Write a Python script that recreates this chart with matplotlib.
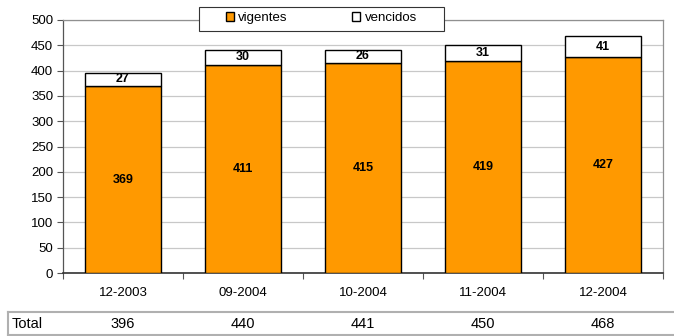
import matplotlib.pyplot as plt
import numpy as np
from matplotlib.lines import Line2D
from matplotlib.patches import Rectangle

periods = ["12-2003", "09-2004", "10-2004", "11-2004", "12-2004"]
vigentes = [369, 411, 415, 419, 427]
vencidos = [27, 30, 26, 31, 41]
totals = [396, 440, 441, 450, 468]

plt.rcParams["font.family"] = ["Liberation Sans", "DejaVu Sans"]

W, H = 674, 336
fig = plt.figure(figsize=(W / 100, H / 100), dpi=100)
ax = fig.add_axes([63 / W, 1 - 273 / H, 600 / W, 253 / H])

x = np.arange(len(periods))
orange = "#FF9900"
ax.bar(x, vigentes, width=0.63, color=orange, edgecolor="black", linewidth=1.0,
       label="vigentes", zorder=3)
ax.bar(x, vencidos, width=0.63, bottom=vigentes, color="white", edgecolor="black",
       linewidth=1.0, label="vencidos", zorder=3)

for i in range(len(periods)):
    ax.text(x[i], vigentes[i] / 2, str(vigentes[i]), ha="center", va="center",
            fontsize=9, fontweight="bold", zorder=4)
    ax.text(x[i], vigentes[i] + vencidos[i] / 2, str(vencidos[i]), ha="center",
            va="center", fontsize=9, fontweight="bold", zorder=4)

ax.set_xlim(-0.5, len(periods) - 0.5)
ax.set_ylim(0, 500)
ax.set_yticks(range(0, 501, 50))
ax.yaxis.grid(True, color="#c8c8c8", linewidth=0.9, zorder=0)
ax.set_axisbelow(True)

ax.set_xticks(x)
ax.set_xticklabels(periods, fontsize=9.5)
ax.set_xticks(np.arange(-0.5, len(periods)), minor=True)
ax.tick_params(axis="x", which="major", length=0, pad=10)
ax.tick_params(axis="x", which="minor", length=4, width=0.8, color="#555555")
ax.tick_params(axis="y", length=4, width=0.8, labelsize=9.5, pad=3, color="#555555")

for side in ["top", "right"]:
    ax.spines[side].set_color("#909090")
    ax.spines[side].set_linewidth(0.9)
ax.spines["left"].set_color("#555555")
ax.spines["bottom"].set_color("#333333")
ax.spines["left"].set_linewidth(0.9)
ax.spines["bottom"].set_linewidth(1.2)

# legend box straddling the top edge of the plot area
fig.add_artist(Rectangle((199 / W, 1 - 31 / H), 245 / W, 24 / H, transform=fig.transFigure,
                         facecolor="white", edgecolor="#333333", linewidth=0.8, zorder=5))
leg = fig.legend(*ax.get_legend_handles_labels(), loc="center",
                 bbox_to_anchor=(321.5 / W, 1 - 18 / H), ncol=2, frameon=False,
                 fontsize=9.5, handlelength=0.6, handleheight=0.6, handletextpad=0.35,
                 columnspacing=4.9, borderpad=0, borderaxespad=0)
leg.set_zorder(6)

# totals row under the chart
line_y_top = 1 - 312 / H
line_y_bot = 1 - 335 / H
fig.add_artist(Line2D([8 / W, 1], [line_y_top, line_y_top], color="#b0b0b0", linewidth=1.5))
fig.add_artist(Line2D([8 / W, 1], [line_y_bot, line_y_bot], color="#b0b0b0", linewidth=1.5))
fig.add_artist(Line2D([8 / W, 8 / W], [line_y_bot, line_y_top], color="#b0b0b0", linewidth=1.5))
row_y = 1 - 324 / H
fig.text(12 / W, row_y, "Total", ha="left", va="center", fontsize=10.5)
for i, t in enumerate(totals):
    xc = ax.transData.transform((x[i], 0))[0] / fig.bbox.width
    fig.text(xc, row_y, str(t), ha="center", va="center", fontsize=10.5)

fig.savefig("out.png", dpi=100)
